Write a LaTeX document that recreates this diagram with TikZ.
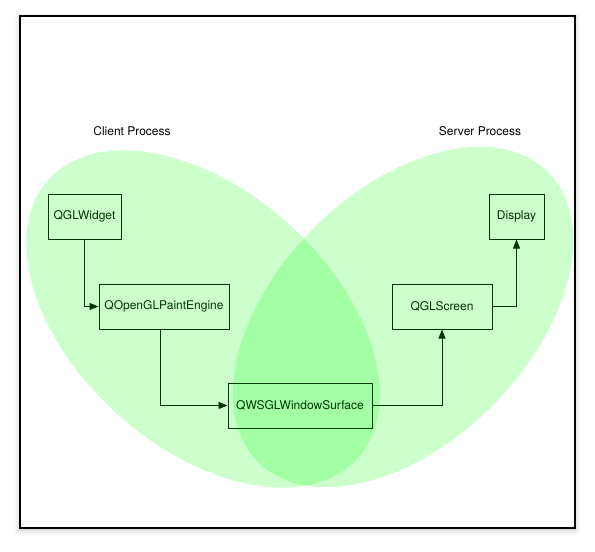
\documentclass[tikz,border=0pt]{standalone}
\usepackage{fontspec}
\setmainfont{TeX Gyre Heros}
\usetikzlibrary{arrows.meta,shadows.blur}
\definecolor{darkgreen}{RGB}{0,55,0}
\begin{document}
\begin{tikzpicture}[x=1pt,y=-1pt]
    \tikzstyle{every node}+=[font=\fontsize{12}{14}\selectfont]
    \tikzstyle{proc}=[draw=darkgreen, line width=1pt, text=darkgreen, minimum height=45pt, inner sep=0pt]
    \tikzstyle{flow}=[draw=darkgreen, line width=0.9pt, -{Triangle[length=9pt,width=7pt]}]
    \tikzstyle{area}=[fill=green, fill opacity=0.2]
    \useasboundingbox (0,0) rectangle (595,552);
    \draw [black, line width=1.3pt, fill=white, blur shadow={shadow xshift=0pt, shadow yshift=-2pt, shadow blur radius=6pt, shadow opacity=25}] (20,16) rectangle (575,528);
    % process areas
    \fill [area] (203,319) ellipse [x radius=208, y radius=128, rotate=-42];
    \fill [area] (403,317) ellipse [x radius=205, y radius=126, rotate=45];
    \node (client) at (132,131) {Client Process};
    \node (server) at (480,131) {Server Process};
    % classes
    \node [proc, minimum width=73pt] (widget) at (84.5,216.5) {QGLWidget};
    \node [proc, minimum width=130pt] (engine) at (164,306.5) {QOpenGLPaintEngine};
    \node [proc, minimum width=144pt] (surface) at (300,405.5) {QWSGLWindowSurface};
    \node [proc, minimum width=100pt] (screen) at (442,306.5) {QGLScreen};
    \node [proc, minimum width=55pt] (display) at (516.5,216.5) {Display};
    \draw [flow] (widget.south) |- (engine.west);
    \draw [flow] ([xshift=-4pt]engine.south) |- (surface.west);
    \draw [flow] (surface.east) -| (screen.south);
    \draw [flow] (screen.east) -| (display.south);
\end{tikzpicture}
\end{document}
